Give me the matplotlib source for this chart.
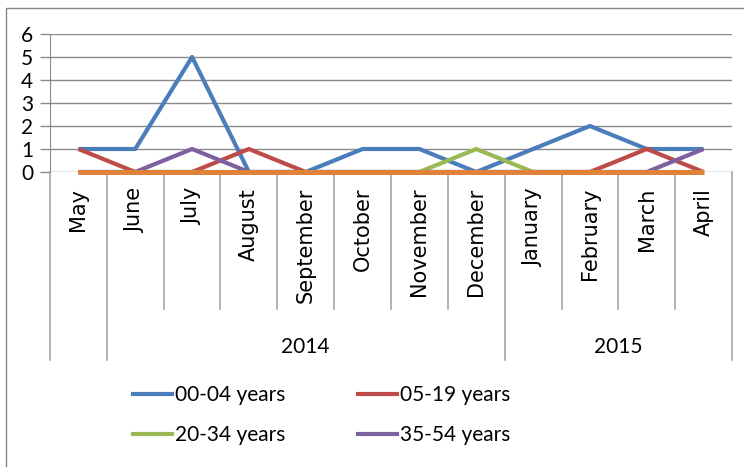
import matplotlib
matplotlib.use("Agg")
import matplotlib.pyplot as plt
from matplotlib.transforms import blended_transform_factory
from matplotlib.lines import Line2D
from matplotlib.patches import Rectangle

months = ["May", "June", "July", "August", "September", "October", "November",
          "December", "January", "February", "March", "April"]
years = ["2014", "2015"]
year_spans = [(1, 7), (8, 11)]  # index ranges of month categories per year

s_00_04 = [1, 1, 5, 0, 0, 1, 1, 0, 1, 2, 1, 1]
s_05_19 = [1, 0, 0, 1, 0, 0, 0, 0, 0, 0, 1, 0]
s_20_34 = [0, 0, 0, 0, 0, 0, 0, 1, 0, 0, 0, 0]
s_35_54 = [0, 0, 1, 0, 0, 0, 0, 0, 0, 0, 0, 1]
s_55_plus = [0, 0, 0, 0, 0, 0, 0, 0, 0, 0, 0, 0]

series = [
    ("00-04 years", s_00_04, "#4A7EBB"),
    ("05-19 years", s_05_19, "#BE4B48"),
    ("20-34 years", s_20_34, "#98B954"),
    ("35-54 years", s_35_54, "#7D60A0"),
]

W, H = 744, 467
fig = plt.figure(figsize=(W / 100, H / 100), dpi=100)

def fx(px):
    return px / W

def fy(py):
    return 1 - py / H

left, right, top, bottom = 50, 732, 34, 172
ax = fig.add_axes([fx(left), fy(bottom), fx(right) - fx(left), fy(top) - fy(bottom)])

grid_c = "#8a8a8a"
sep_c = "#a6a6a6"

ax.set_xlim(-0.5, len(months) - 0.5)
ax.set_ylim(0, 6)
ax.set_yticks(range(0, 7))
ax.set_yticklabels([str(v) for v in range(0, 7)], fontfamily="Lato", fontsize=15)
ax.tick_params(axis="y", length=7, width=1, color=grid_c, pad=5)
ax.set_xticks([])
for sp in ["top", "right", "bottom"]:
    ax.spines[sp].set_visible(False)
ax.spines["left"].set_color(grid_c)
ax.yaxis.grid(True, color=grid_c, linewidth=1.0)
ax.set_axisbelow(True)

x = list(range(len(months)))
for name, vals, col in series:
    ax.plot(x, vals, color=col, linewidth=3.0, solid_capstyle="butt", zorder=3,
            clip_on=False)
ax.plot(x, s_55_plus, color="#E0823A", linewidth=3.6, solid_capstyle="butt", zorder=4,
        clip_on=False)

# multi-level category axis
bt = blended_transform_factory(ax.transData, fig.transFigure)
y_axis = fy(bottom)
y_mid = fy(309)
y_low = fy(360)
full_bounds = {-0.5, 0.5, 7.5, 11.5}
for b in [i - 0.5 for i in range(len(months) + 1)]:
    y_end = y_low if b in full_bounds else y_mid
    ax.add_line(Line2D([b, b], [y_axis, y_end], transform=bt, color=sep_c,
                       linewidth=1.2, clip_on=False, zorder=1))

for i, m in enumerate(months):
    ax.text(i, fy(188), m, transform=bt, rotation=90, ha="center", va="top",
            fontsize=15, family="DejaVu Sans", color="black")

for yr, (a, b) in zip(years, year_spans):
    ax.text((a + b) / 2, fy(347), yr, transform=bt, ha="center", va="center",
            fontsize=15, family="Lato", color="black")

# outer chart frame
fig.add_artist(Rectangle((fx(6), fy(900)), 2, fy(8) - fy(900), transform=fig.transFigure,
                         fill=False, edgecolor="#878787", linewidth=1.0))

handles = [Line2D([], [], color=c, linewidth=3.0) for _, _, c in series]
labels = [n for n, _, _ in series]
order = [0, 2, 1, 3]
fig.legend([handles[i] for i in order], [labels[i] for i in order],
           ncol=2, loc="upper left", bbox_to_anchor=(fx(133), fy(385)),
           frameon=False, prop={"family": "Lato", "size": 15},
           handlelength=1.85, handletextpad=0.17, columnspacing=3.5,
           labelspacing=0.95, borderpad=0, borderaxespad=0)

fig.savefig("out.png", dpi=100, facecolor="white")
